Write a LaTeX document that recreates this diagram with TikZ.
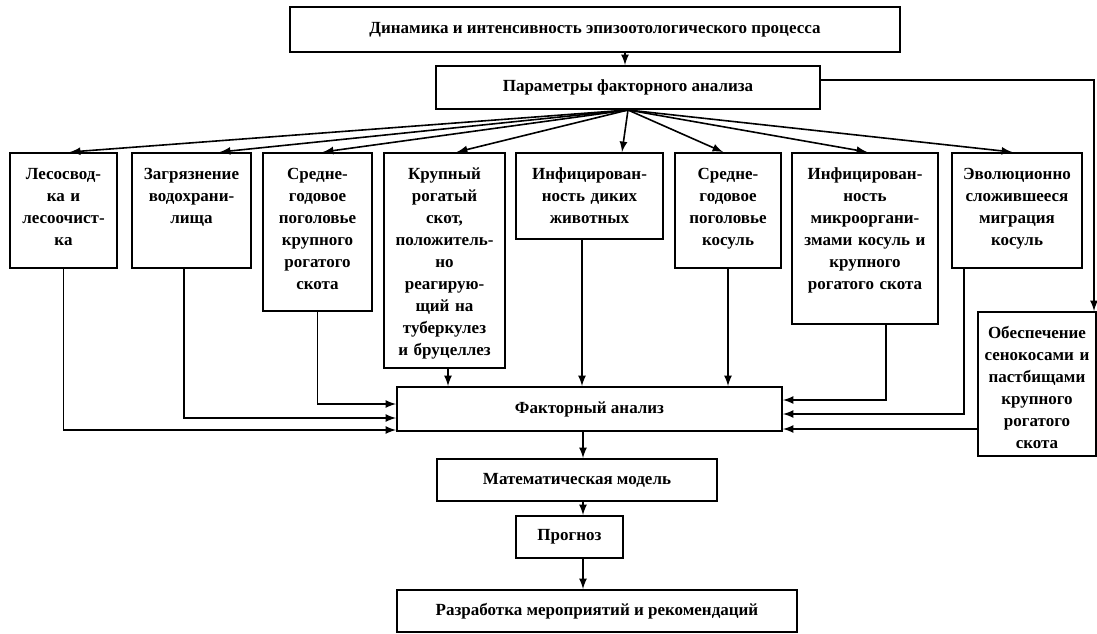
\documentclass[tikz,border=0pt]{standalone}
\usepackage{fontspec}
\setmainfont{Liberation Serif}
\newcommand{\boxfont}{\fontsize{8.5}{11}\selectfont\bfseries}
\tikzset{
    fbox/.style={draw, line width=1pt, align=center, anchor=north, inner xsep=1pt, inner ysep=0pt,
        font=\boxfont, text height=13pt},
    sbox/.style={draw, line width=1pt, inner sep=0pt, font=\boxfont},
}
\begin{document}
\begin{tikzpicture}[x=0.5pt, y=-0.5pt, >=latex, thick]
    \useasboundingbox (0,0) rectangle (1097,633);
    \node[sbox, minimum width=305pt, minimum height=22.5pt] (top) at (595,29.5) {Динамика и интенсивность эпизоотологического процесса};
    \node[sbox, minimum width=192pt, minimum height=21.5pt] (pa) at (628,87.5) {Параметры факторного анализа};
    \node[fbox, text width=51.5pt, text depth=44.5pt] (f1) at (63.5,152) {Лесосвод-\\ка и\\лесоочист-\\ка};
    \node[fbox, text width=57.5pt, text depth=44.5pt] (f2) at (191.5,152) {Загрязнение\\водохрани-\\лища};
    \node[fbox, text width=52.5pt, text depth=66pt] (f3) at (317.5,152) {Средне-\\годовое\\поголовье\\крупного\\рогатого\\скота};
    \node[fbox, text width=58.5pt, text depth=94.5pt] (f4) at (444.5,152) {Крупный\\рогатый\\скот,\\положитель-\\но\\реагирую-\\щий на\\туберкулез\\и бруцеллез};
    \node[fbox, text width=71.5pt, text depth=30pt] (f5) at (589.5,152) {Инфицирован-\\ность диких\\животных};
    \node[fbox, text width=51pt, text depth=44.5pt] (f6) at (728,152) {Средне-\\годовое\\поголовье\\косуль};
    \node[fbox, text width=71pt, text depth=72.5pt] (f7) at (865,152) {Инфицирован-\\ность\\микрооргани-\\змами косуль и\\крупного\\рогатого скота};
    \node[fbox, text width=63pt, text depth=44.5pt] (f8) at (1017,152) {Эволюционно\\сложившееся\\миграция\\косуль};
    \node[fbox, text width=57pt, text depth=59pt] (f9) at (1037,311) {Обеспечение\\сенокосами и\\пастбищами\\крупного\\рогатого\\скота};
    \node[sbox, minimum width=192.5pt, minimum height=22pt] (fa) at (589.5,409) {Факторный анализ};
    \node[sbox, minimum width=140pt, minimum height=21pt] (mm) at (577,480) {Математическая модель};
    \node[sbox, minimum width=53.5pt, minimum height=21pt] (pr) at (569.5,537) {Прогноз};
    \node[sbox, minimum width=200pt, minimum height=21pt] (rz) at (597,611) {Разработка мероприятий и рекомендаций};
    \coordinate (ax) at (583,0);
    \draw[->] ([xshift=15pt]top.south) -- ([xshift=15pt]top.south |- pa.north);
    \foreach \n/\dx in {f1/3.25, f2/14.25, f3/2.75, f4/6.25, f5/16.25, f6/-2.5, f7/1, f8/-2.5}
        \draw[->] (pa.south) -- ([xshift=\dx pt]\n.north);
    \draw[->] ([yshift=3.75pt]pa.east) -| ([xshift=-1.5pt]f9.north east);
    \coordinate (l1) at ([yshift=1pt]fa.south west);
    \coordinate (l2) at ([yshift=7pt]fa.south west);
    \coordinate (l3) at ([yshift=14pt]fa.south west);
    \coordinate (r7) at ([yshift=16pt]fa.south east);
    \coordinate (r8) at ([yshift=9pt]fa.south east);
    \coordinate (r9) at ([yshift=1.5pt]fa.south east);
    \draw[->] (f1.south) |- (l1);
    \draw[->] ([xshift=-3.75pt]f2.south) |- (l2);
    \draw[->] (f3.south) |- (l3);
    \draw[->] ([xshift=1.75pt]f4.south) -- ([xshift=1.75pt]f4.south |- fa.north);
    \draw[->] ([xshift=-3.75pt]f5.south) -- ([xshift=-3.75pt]f5.south |- fa.north);
    \draw[->] (f6.south) -- (f6.south |- fa.north);
    \draw[->] ([xshift=10.5pt]f7.south) |- (r7);
    \draw[->] ([xshift=-26.5pt]f8.south) |- (r8);
    \draw[->] (f9.west |- r9) -- (r9);
    \draw[->] (fa.south -| ax) -- (mm.north -| ax);
    \draw[->] (mm.south -| ax) -- (pr.north -| ax);
    \draw[->] (pr.south -| ax) -- (rz.north -| ax);
\end{tikzpicture}
\end{document}
